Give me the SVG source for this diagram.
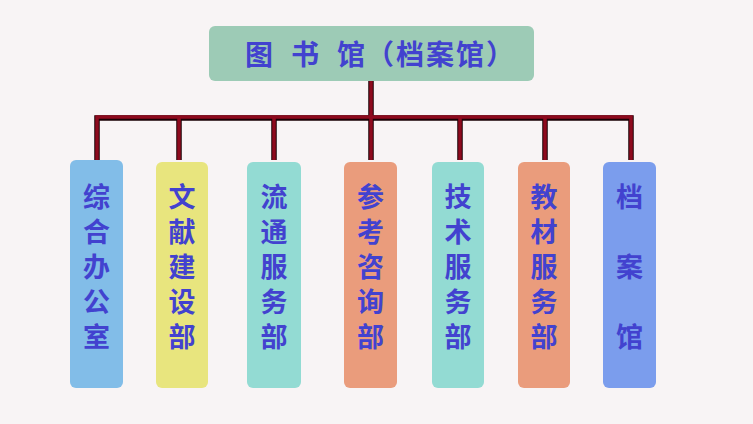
<svg xmlns="http://www.w3.org/2000/svg" width="753" height="424" viewBox="0 0 753 424">
<style>
.t{font-family:"Noto Sans CJK SC","Noto Sans",sans-serif;font-weight:bold;fill:#4242cf;}
.h{font-size:28px;}
.v{font-size:27px;writing-mode:vertical-rl;letter-spacing:8px;}
.w{letter-spacing:43px;}
.bus{stroke:#1a0006;stroke-width:5.5;fill:none;}
.busin{stroke:#8e0a1e;stroke-width:3.5;fill:none;}
</style>
<rect width="753" height="424" fill="#f8f4f5"/>
<g id="connectors">
<path class="bus" d="M371 80V118M97 160V118H631V160M179 118V160M274 118V160M371 118V160M460 118V160M545 118V160"/>
<path class="busin" d="M371 80V117M97 160V117H631V160M179 117V160M274 117V160M371 117V160M460 117V160M545 117V160"/>
</g>
<g id="root">
<rect x="209" y="26" width="325" height="55" rx="6" fill="#9dcbb6"/>
<text class="t h" x="245" y="65">图</text>
<text class="t h" x="291" y="65">书</text>
<text class="t h" x="337" y="65">馆</text>
<text class="t h" x="366" y="65" letter-spacing="2">（档案馆）</text>
</g>
<g id="n1">
<rect x="70" y="160" width="53" height="228" rx="6" fill="#82bde8"/>
<text class="t v" x="96.5" y="183">综合办公室</text>
</g>
<g id="n2">
<rect x="156" y="162" width="52" height="226" rx="6" fill="#e8e57e"/>
<text class="t v" x="182" y="183">文献建设部</text>
</g>
<g id="n3">
<rect x="247" y="162" width="54" height="226" rx="6" fill="#93dbd3"/>
<text class="t v" x="274" y="183">流通服务部</text>
</g>
<g id="n4">
<rect x="344" y="162" width="53" height="226" rx="6" fill="#ea9c7c"/>
<text class="t v" x="370.5" y="183">参考咨询部</text>
</g>
<g id="n5">
<rect x="432" y="162" width="52" height="226" rx="6" fill="#93dbd3"/>
<text class="t v" x="458" y="183">技术服务部</text>
</g>
<g id="n6">
<rect x="518" y="162" width="52" height="226" rx="6" fill="#ea9c7c"/>
<text class="t v" x="544" y="183">教材服务部</text>
</g>
<g id="n7">
<rect x="603" y="162" width="53" height="226" rx="6" fill="#7b9ded"/>
<text class="t v w" x="629.5" y="183">档案馆</text>
</g>
</svg>
